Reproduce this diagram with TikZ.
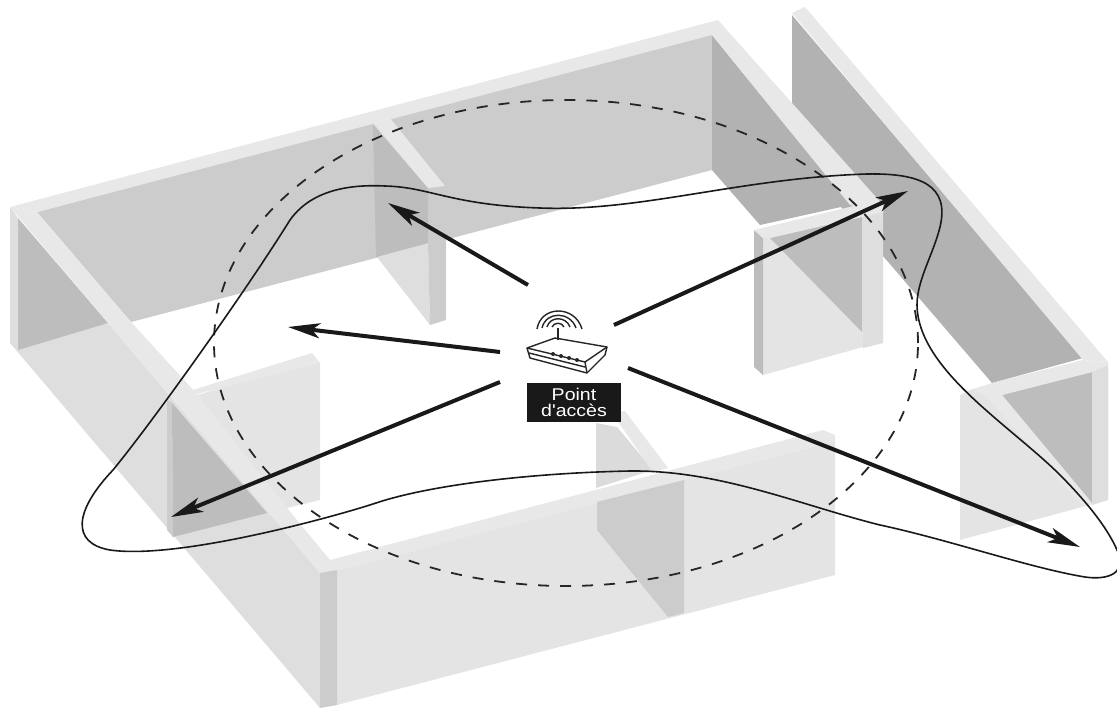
\documentclass[tikz,border=0pt]{standalone}
\usepackage{fontspec}
\setmainfont{Liberation Sans}
\newfontfamily\widefont[FakeStretch=1.15]{Liberation Sans}
\usetikzlibrary{arrows.meta}
\definecolor{capc}{gray}{0.91}
\definecolor{wallc}{gray}{0.80}
\definecolor{darkc}{gray}{0.70}
\definecolor{midc}{gray}{0.74}
\definecolor{lightc}{gray}{0.87}
\definecolor{paler}{gray}{0.895}
\tikzset{
  fcap/.style={fill=capc},
  fwall/.style={fill=wallc},
  fdark/.style={fill=darkc},
  fmid/.style={fill=midc},
  flight/.style={fill=lightc},
  fpale/.style={fill=paler},
  rayline/.style={line width=4pt,black!90,-{Stealth[length=32pt,width=15pt,inset=8pt]}},
  lobeline/.style={line width=1.6pt,black!90},
  rangeline/.style={line width=1.8pt,black!85,dash pattern=on 11pt off 11pt},
  routerline/.style={line width=1.4pt,black!85,line join=round},
  waveline/.style={line width=1.4pt,black!85},
  labelbox/.style={fill=black!90,text=white,font=\widefont\fontsize{17}{16}\selectfont,align=center,inner sep=0pt,minimum width=94pt,minimum height=39pt}
}
\begin{document}
\begin{tikzpicture}[x=1pt,y=-1pt]
\useasboundingbox (0,0) rectangle (1117,709);
\clip (0,0) rectangle (1117,709);
% outer right wall
\path[fdark] (792,15) -- (1083,358) -- (992,383) -- (792,150) -- cycle;
\path[fcap] (792,13) -- (805,7) -- (1108,362) -- (1083,360) -- cycle;
% lower right panel
\path[fpale] (960,395) -- (970,390) -- (1108,365) -- (1108,500) -- (960,540) -- cycle;
\path[fill=midc] (1002,395) -- (1092,372) -- (1092,503) -- cycle;
\path[flight] (1092,372) -- (1108,365) -- (1108,500) -- (1092,505) -- cycle;
\path[fcap] (970,390) -- (992,383) -- (1083,360) -- (1108,362) -- (1108,365) -- (1092,372) -- (1002,395) -- (1092,503) -- (1082,506) -- (985,395) -- cycle;
% main back wall
\path[fwall] (37,212) -- (712,33) -- (712,170) -- (131,322) -- cycle;
% back right wall
\path[fdark] (712,35) -- (850,205) -- (760,225) -- (712,170) -- cycle;
% back wall cap and right cap
\path[fcap] (10,207) -- (718,20) -- (883,205) -- (883,213) -- (850,205) -- (712,35) -- (37,212) -- cycle;
% back partition
\path[fill=lightc] (377,257) -- (428,243) -- (430,325) -- cycle;
\path[fill=midc] (373,125) -- (428,188) -- (428,243) -- (376,257) -- cycle;
\path[fill=wallc] (428,243) -- (446,238) -- (446,320) -- (430,325) -- cycle;
\path[fcap] (373,123) -- (390,118) -- (445,186) -- (428,188) -- cycle;
% right partition
\path[fpale] (763,238) -- (863,215) -- (863,347) -- (763,375) -- cycle;
\path[fmid] (770,238) -- (862,215) -- (862,332) -- cycle;
\path[fill=lightc] (863,215) -- (883,210) -- (883,343) -- (863,348) -- cycle;
\path[fill=midc] (754,230) -- (763,238) -- (763,375) -- (754,367) -- cycle;
\path[fcap] (754,230) -- (862,204) -- (884,212) -- (770,238) -- (763,238) -- cycle;
% left exterior
\path[fill=lightc] (10,343) -- (108,323) -- (320,573) -- (320,708) -- cycle;
\path[fmid] (18,218) -- (108,323) -- (18,350) -- cycle;
\path[flight] (10,207) -- (18,218) -- (18,350) -- (10,343) -- cycle;
% left partition
\path[fpale] (197,395) -- (317,360) -- (320,363) -- (320,500) -- (287,508) -- cycle;
\path[fcap] (170,397) -- (312,353) -- (320,363) -- (197,394) -- cycle;
\path[fmid] (172,403) -- (267,513) -- (173,537) -- cycle;
\path[fill=wallc] (167,400) -- (172,403) -- (173,537) -- (167,530) -- cycle;
% left cap
\path[fcap] (10,207) -- (37,212) -- (131,322) -- (197,394) -- (287,508) -- (330,560) -- (337,570) -- (320,573) -- cycle;
% front partition, top part
\path[fill=lightc!85!wallc] (596,423) -- (617,427) -- (653,470) -- (596,488) -- cycle;
\path[fcap] (612,413) -- (625,411) -- (668,468) -- (653,472) -- cycle;
% front wall
\path[fpale] (337,570) -- (835,441) -- (835,575) -- (337,705) -- cycle;
\path[fcap] (330,560) -- (823,430) -- (835,435) -- (835,441) -- (337,571) -- (320,573) -- cycle;
\path[fwall] (320,573) -- (337,570) -- (337,705) -- (320,708) -- cycle;
\path[fwall] (597,502) -- (684,480) -- (684,613) -- (668,617) -- (597,530) -- cycle;
% dashed range
\draw[rangeline] (566,343) ellipse [x radius=352pt, y radius=243pt];
% solid lobe
\draw[lobeline] (290,220)
 .. controls (310,192) and (345,184) .. (385,186)
 .. controls (430,187) and (450,205) .. (540,208)
 .. controls (640,212) and (740,178) .. (867,174)
 .. controls (920,173) and (950,185) .. (940,227)
 .. controls (933,255) and (917,280) .. (917,305)
 .. controls (918,370) and (1010,425) .. (1060,475)
 .. controls (1085,500) and (1110,530) .. (1119,555)
 .. controls (1125,575) and (1105,580) .. (1085,577)
 .. controls (1030,568) and (950,540) .. (880,525)
 .. controls (800,505) and (720,470) .. (630,471)
 .. controls (530,473) and (430,485) .. (376,503)
 .. controls (340,515) and (180,560) .. (110,550)
 .. controls (70,543) and (75,510) .. (113,470)
 .. controls (150,425) and (240,300) .. cycle;
% label
\node[labelbox] (lbl) at (574,402.5) {Point\\d'accès};
% router
\draw[routerline,fill=white] (527,348) -- (555,338) -- (607,347) -- (605,355) -- (587,373) -- (530,358) -- cycle;
\draw[routerline] (527,348) -- (585,362) -- (607,347);
\draw[routerline] (585,362) -- (587,373);
\draw[routerline] (529,353) -- (585,367);
\foreach \px/\py in {553/354,561/356,569/358,577/360}
  \fill[black!85] (\px,\py) circle (2pt);
\draw[waveline] (558,328) -- (558,340);
\draw[waveline] (537,329) .. controls (541,305) and (575,305) .. (582,329);
\draw[waveline] (542,328) .. controls (546,311) and (570,311) .. (576,328);
\draw[waveline] (547,327) .. controls (550,316) and (566,316) .. (570,327);
\draw[waveline] (552,327) .. controls (554,322) and (562,322) .. (564,327);
% rays
\coordinate (c1) at (528,285); \coordinate (t1) at (388,203);
\coordinate (c2) at (500,352); \coordinate (t2) at (288,327);
\coordinate (c3) at (500,382); \coordinate (t3) at (171,517);
\coordinate (c4) at (628,368); \coordinate (t4) at (1080,547);
\coordinate (c5) at (614,325); \coordinate (t5) at (908,191);
\draw[rayline] (c1) -- (t1);
\draw[rayline] (c2) -- (t2);
\draw[rayline] (c3) -- (t3);
\draw[rayline] (c4) -- (t4);
\draw[rayline] (c5) -- (t5);
\end{tikzpicture}
\end{document}
